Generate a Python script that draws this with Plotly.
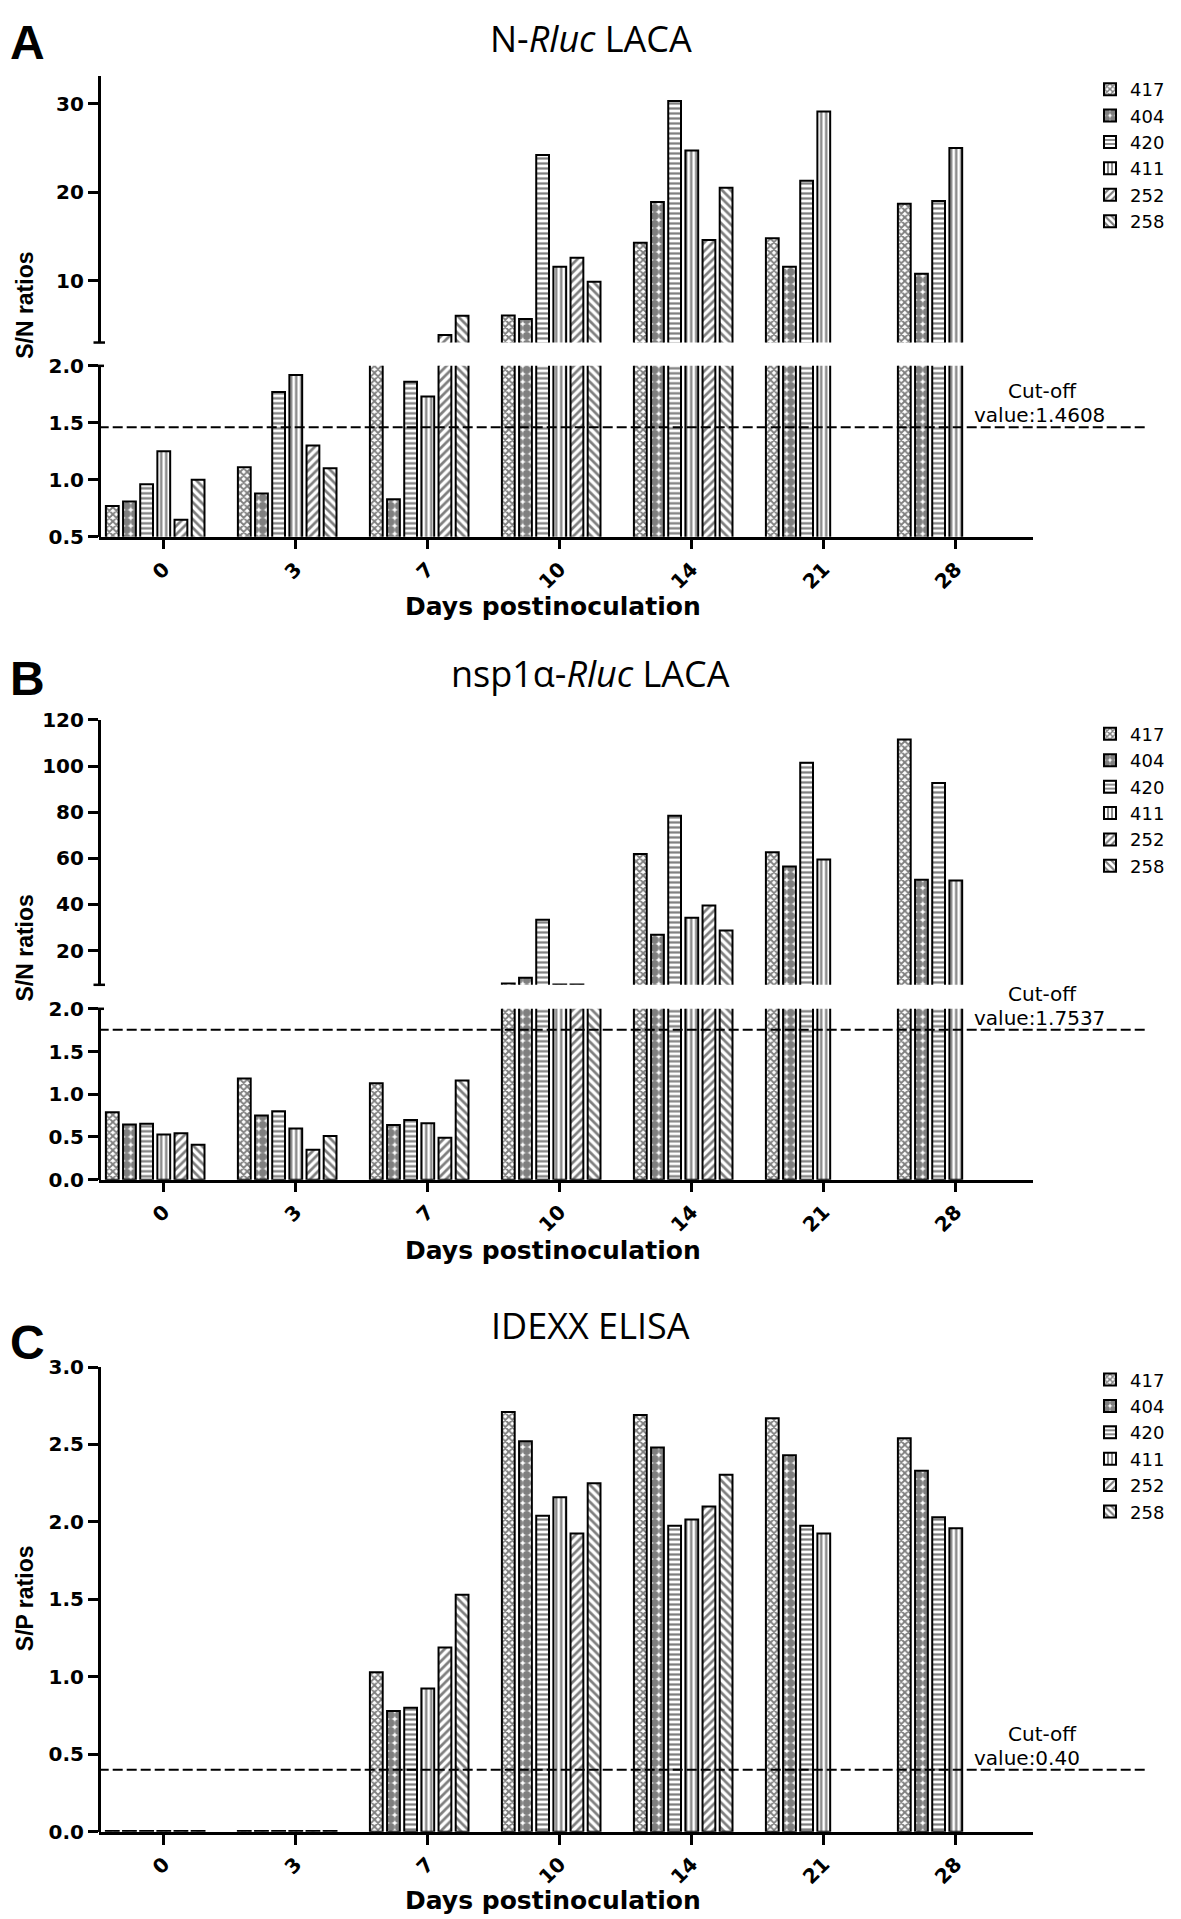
import plotly.graph_objects as go

# ---------------------------------------------------------------------------
# data
days = ["0", "3", "7", "10", "14", "21", "28"]
pigs = ["417", "404", "420", "411", "252", "258"]

# A: N-Rluc LACA, S/N ratios
a_417 = [0.77, 1.11, 2.4, 6.1, 14.3, 14.8, 18.7]
a_404 = [0.81, 0.88, 0.83, 5.7, 18.9, 11.6, 10.8]
a_420 = [0.96, 1.77, 1.86, 24.2, 30.3, 21.3, 19.0]
a_411 = [1.25, 1.92, 1.73, 11.6, 24.7, 29.1, 25.0]
a_252 = [0.65, 1.30, 3.9, 12.6, 14.6, None, None]
a_258 = [1.00, 1.10, 6.05, 9.9, 20.5, None, None]
a_cutoff = 1.4608

# B: nsp1a-Rluc LACA, S/N ratios
b_417 = [0.79, 1.185, 1.13, 5.7, 61.9, 62.6, 111.5]
b_404 = [0.645, 0.75, 0.64, 8.2, 26.8, 56.4, 50.7]
b_420 = [0.655, 0.80, 0.70, 33.3, 78.5, 101.4, 92.6]
b_411 = [0.53, 0.60, 0.66, 5.25, 34.2, 59.5, 50.4]
b_252 = [0.545, 0.35, 0.49, 5.25, 39.5, None, None]
b_258 = [0.41, 0.51, 1.16, 4.0, 28.7, None, None]
b_cutoff = 1.7537

# C: IDEXX ELISA, S/P ratios
c_417 = [0.005, 0.005, 1.03, 2.71, 2.69, 2.67, 2.54]
c_404 = [0.005, 0.005, 0.78, 2.52, 2.48, 2.43, 2.33]
c_420 = [0.005, 0.005, 0.80, 2.04, 1.975, 1.975, 2.03]
c_411 = [0.005, 0.005, 0.925, 2.16, 2.015, 1.925, 1.96]
c_252 = [0.005, 0.005, 1.19, 1.925, 2.10, None, None]
c_258 = [0.005, 0.005, 1.53, 2.25, 2.305, None, None]
c_cutoff = 0.40

# ---------------------------------------------------------------------------
# target positions are given in page pixels; the page shows the figure
# shifted by the body margin, and a little squeezed vertically
W, H = 1165, 1919
MX = 8
MY, SY = 19.0, 0.988


def xp(px):
    return (px - MX) / W


def yp(px):
    return 1 - ((px - MY) / SY) / H


X0, X1 = 98.7, 1033      # plot area left / right (page px)
LINE_END = 1147.6        # cut-off line end (page px)

pats = {
    "417": dict(shape="x", size=5, solidity=0.6),
    "404": dict(shape=".", size=8, solidity=0.75),
    "420": dict(shape="-", size=5, solidity=0.45),
    "411": dict(shape="|", size=5, solidity=0.45),
    "252": dict(shape="/", size=6, solidity=0.45),
    "258": dict(shape="\\", size=6, solidity=0.45),
}

slot = 0.130
bar_w = 0.097

fig = go.Figure()


def add_bars(vals, xa, y_axes, legend):
    for j, pig in enumerate(pigs):
        for k, ya in enumerate(y_axes):
            fig.add_trace(go.Bar(
                x=days, y=vals[j], xaxis=xa, yaxis=ya,
                name=pig, legend=legend, showlegend=(k == 0),
                width=bar_w, offset=(j - 3) * slot - bar_w / 2,
                marker=dict(color="white",
                            line=dict(color="black", width=2),
                            pattern=dict(fgcolor="black", bgcolor="white",
                                         **pats[pig])),
                hoverinfo="skip"))


add_bars([a_417, a_404, a_420, a_411, a_252, a_258], "x", ["y", "y2"], "legend")
add_bars([b_417, b_404, b_420, b_411, b_252, b_258], "x2", ["y3", "y4"], "legend2")
add_bars([c_417, c_404, c_420, c_411, c_252, c_258], "x3", ["y5"], "legend3")

tick_font = dict(family="DejaVu Sans", size=20, color="black", weight="bold")
axis_common = dict(showline=True, linecolor="black", linewidth=2.5,
                   ticks="outside", ticklen=10, tickwidth=2.5, tickcolor="black",
                   showgrid=False, zeroline=False, tickfont=tick_font)


def xaxis(anchor):
    return dict(axis_common, domain=[xp(X0), xp(X1)], anchor=anchor,
                type="category", range=[-0.493, 6.585], tickangle=-45)


def yaxis(top, bottom, rng, vals, fmt=None):
    d = dict(axis_common, domain=[yp(bottom), yp(top)], anchor="free",
             position=xp(X0), range=rng, tickvals=vals)
    if fmt:
        d["tickformat"] = fmt
    return d


fig.update_layout(
    width=W, height=H,
    margin=dict(l=0, r=0, t=0, b=0),
    paper_bgcolor="white", plot_bgcolor="white",
    barmode="overlay",
    xaxis=xaxis("y"),
    xaxis2=xaxis("y3"),
    xaxis3=xaxis("y5"),
    yaxis=yaxis(365, 536, [0.5, 2.0], [0.5, 1.0, 1.5, 2.0], ".1f"),
    yaxis2=yaxis(75, 341.7, [3.04, 33.12], [10, 20, 30]),
    yaxis3=yaxis(1008.3, 1179.3, [0, 2.0], [0, 0.5, 1.0, 1.5, 2.0], ".1f"),
    yaxis4=yaxis(719.3, 984.3, [5.13, 120], [20, 40, 60, 80, 100, 120]),
    yaxis5=yaxis(1366.7, 1831.7, [0, 3.0], [0, 0.5, 1.0, 1.5, 2.0, 2.5, 3.0], ".1f"),
)

leg = dict(xanchor="left", yanchor="top", bgcolor="rgba(0,0,0,0)",
           font=dict(family="DejaVu Sans", size=18, color="black"),
           itemwidth=30, tracegroupgap=0, traceorder="normal")
fig.update_layout(
    legend=dict(leg, x=xp(1090), y=yp(70)),
    legend2=dict(leg, x=xp(1090), y=yp(715)),
    legend3=dict(leg, x=xp(1090), y=yp(1361)),
)

# cut-off lines and labels
for ya, cut in [("y", a_cutoff), ("y3", b_cutoff), ("y5", c_cutoff)]:
    fig.add_shape(type="line", xref="paper", yref=ya,
                  x0=xp(X0), x1=xp(LINE_END), y0=cut, y1=cut,
                  line=dict(color="black", width=2, dash="10px,4px"))
    fig.add_annotation(text="Cut-off", xref="paper", yref=ya,
                       x=xp(1042), y=cut, yshift=36, showarrow=False,
                       xanchor="center", yanchor="middle",
                       font=dict(family="DejaVu Sans", size=20, color="black"))
    fig.add_annotation(text="value:" + ("%.4f" % cut if cut > 1 else "%.2f" % cut),
                       xref="paper", yref=ya,
                       x=xp(972), y=cut, yshift=12, showarrow=False,
                       xanchor="left", yanchor="middle",
                       font=dict(family="DejaVu Sans", size=20, color="black"))

# axis break caps
for ypx in [341.7, 984.3]:
    fig.add_shape(type="line", xref="paper", yref="paper",
                  x0=xp(93.5), x1=xp(105), y0=yp(ypx), y1=yp(ypx),
                  line=dict(color="black", width=2.5))
for ypx in [365, 1008.3]:
    fig.add_shape(type="line", xref="paper", yref="paper",
                  x0=xp(98), x1=xp(104), y0=yp(ypx), y1=yp(ypx),
                  line=dict(color="black", width=2.5))

# titles, panel letters, axis titles
title_font = dict(family="Open Sans", size=36, color="black")
fig.add_annotation(text="N-<i>Rluc</i> LACA", xref="paper", yref="paper",
                   x=xp(590.5), y=1, yshift=8, showarrow=False,
                   xanchor="center", yanchor="top", font=title_font)
for txt, ypx in [("nsp1α-<i>Rluc</i> LACA", 673), ("IDEXX ELISA", 1325)]:
    fig.add_annotation(text=txt, xref="paper", yref="paper", x=xp(590.5), y=yp(ypx),
                       showarrow=False, xanchor="center", yanchor="middle",
                       font=title_font)

letter_font = dict(family="Liberation Sans", size=48, color="black", weight="bold")
fig.add_annotation(text="A", xref="paper", yref="paper", x=0, y=1, yshift=6,
                   showarrow=False, xanchor="left", yanchor="top", font=letter_font)
for txt, ypx in [("B", 678), ("C", 1342)]:
    fig.add_annotation(text=txt, xref="paper", yref="paper", x=0, y=yp(ypx),
                       showarrow=False, xanchor="left", yanchor="middle",
                       font=letter_font)

for txt, ypx in [("S/N ratios", 305), ("S/N ratios", 948), ("S/P ratios", 1598)]:
    fig.add_annotation(text=txt, xref="paper", yref="paper", x=xp(25), y=yp(ypx),
                       showarrow=False, textangle=-90,
                       xanchor="center", yanchor="middle",
                       font=dict(family="Liberation Sans", size=23, color="black",
                                 weight="bold"))

for ypx in [606, 1250, 1900]:
    fig.add_annotation(text="Days postinoculation", xref="paper", yref="paper",
                       x=xp(553), y=yp(ypx), showarrow=False,
                       xanchor="center", yanchor="middle",
                       font=dict(family="DejaVu Sans", size=25, color="black",
                                 weight="bold"))

fig.write_html("out.html")
